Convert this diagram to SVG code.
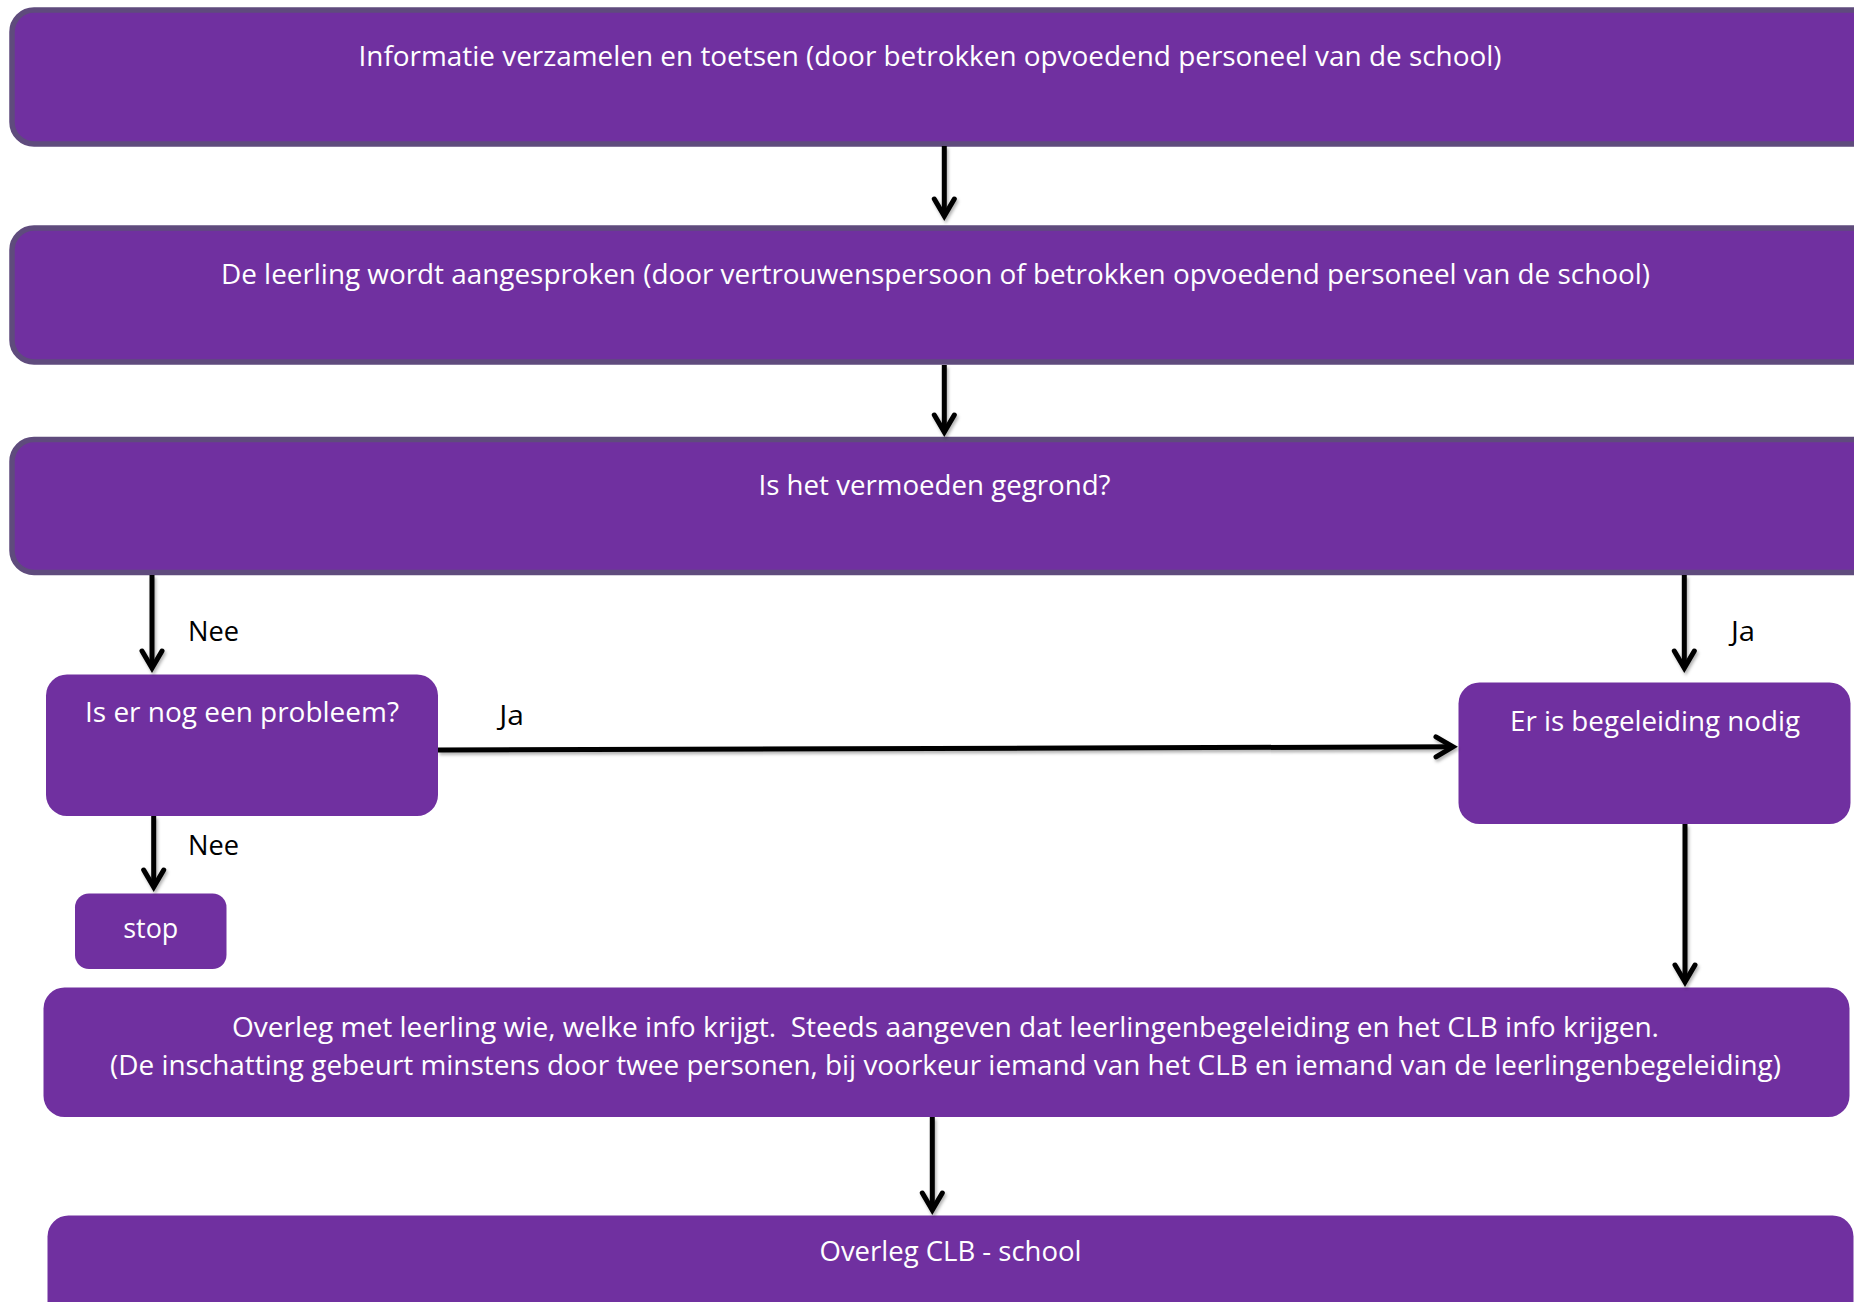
<svg xmlns="http://www.w3.org/2000/svg" width="1854" height="1302" viewBox="0 0 1854 1302">
<style>
.box{fill:#7030a0;}
.bbox{fill:#7030a0;stroke:#5f4b7d;stroke-width:5.5;}
.t{font-family:"Open Sans","Noto Sans",sans-serif;font-size:28px;fill:#ffffff;text-anchor:middle;}
.lbl{font-family:"Open Sans","Noto Sans",sans-serif;font-size:28px;fill:#000000;}
.c{fill:none;stroke:#000000;stroke-width:5;marker-end:url(#ah);}
</style>
<defs>
<marker id="ah" markerUnits="userSpaceOnUse" orient="auto" refX="-5" refY="0" markerWidth="40" markerHeight="40" viewBox="-30 -20 40 40" overflow="visible">
<path d="M-22,-10 L-5,0 L-22,10" fill="none" stroke="#000000" stroke-width="5" stroke-linejoin="miter" stroke-linecap="round"/>
</marker>
<filter id="sh" x="-20%" y="-20%" width="140%" height="140%">
<feDropShadow dx="1.5" dy="2.5" stdDeviation="1.5" flood-color="#000000" flood-opacity="0.3"/>
</filter>
</defs>

<g id="n1">
<rect class="bbox" x="12" y="10" width="1900" height="134" rx="22"/>
<text class="t" x="930" y="66" textLength="1143" lengthAdjust="spacingAndGlyphs">Informatie verzamelen en toetsen (door betrokken opvoedend personeel van de school)</text>
</g>
<g id="n2">
<rect class="bbox" x="12" y="228" width="1900" height="134" rx="22"/>
<text class="t" x="935.5" y="284" textLength="1429" lengthAdjust="spacingAndGlyphs">De leerling wordt aangesproken (door vertrouwenspersoon of betrokken opvoedend personeel van de school)</text>
</g>
<g id="n3">
<rect class="bbox" x="12" y="439.5" width="1900" height="133" rx="22"/>
<text class="t" x="934.5" y="495" textLength="352" lengthAdjust="spacingAndGlyphs">Is het vermoeden gegrond?</text>
</g>
<g id="n4">
<rect class="box" x="46" y="674.5" width="392" height="141.5" rx="21"/>
<text class="t" x="242" y="721.7" textLength="314" lengthAdjust="spacingAndGlyphs">Is er nog een probleem?</text>
</g>
<g id="n5">
<rect class="box" x="75" y="893.5" width="151.5" height="75.5" rx="14"/>
<text class="t" x="150.8" y="938.3" textLength="55" lengthAdjust="spacingAndGlyphs">stop</text>
</g>
<g id="n6">
<rect class="box" x="1458.5" y="682.5" width="392" height="141.5" rx="21"/>
<text class="t" x="1655" y="730.7" textLength="290" lengthAdjust="spacingAndGlyphs">Er is begeleiding nodig</text>
</g>
<g id="n7">
<rect class="box" x="43.5" y="987.5" width="1806" height="129.5" rx="21"/>
<text class="t" x="945.5" y="1036.7" textLength="1427" lengthAdjust="spacingAndGlyphs" xml:space="preserve">Overleg met leerling wie, welke info krijgt.  Steeds aangeven dat leerlingenbegeleiding en het CLB info krijgen.</text>
<text class="t" x="945.5" y="1075" textLength="1671" lengthAdjust="spacingAndGlyphs">(De inschatting gebeurt minstens door twee personen, bij voorkeur iemand van het CLB en iemand van de leerlingenbegeleiding)</text>
</g>
<g id="n8">
<rect class="box" x="47.5" y="1215.5" width="1806" height="140" rx="21"/>
<text class="t" x="950.5" y="1260.7" textLength="262" lengthAdjust="spacingAndGlyphs">Overleg CLB - school</text>
</g>

<g id="connectors" filter="url(#sh)">
<path class="c" d="M944.3,146 L944.3,216"/>
<path class="c" d="M944.3,365 L944.3,432"/>
<path class="c" d="M152,575 L152,668"/>
<path class="c" d="M1684.3,575 L1684.3,668"/>
<path class="c" d="M438,750 L1453,746.8"/>
<path class="c" d="M153.7,816 L153.7,887"/>
<path class="c" d="M1685,824 L1685,982"/>
<path class="c" d="M932.3,1117 L932.3,1210"/>
</g>

<g id="labels">
<text class="lbl" x="188" y="640.7" textLength="51" lengthAdjust="spacingAndGlyphs">Nee</text>
<text class="lbl" x="188" y="855" textLength="51" lengthAdjust="spacingAndGlyphs">Nee</text>
<text class="lbl" x="1731" y="640.7" textLength="24" lengthAdjust="spacingAndGlyphs">Ja</text>
<text class="lbl" x="499.3" y="725" textLength="24.7" lengthAdjust="spacingAndGlyphs">Ja</text>
</g>
</svg>
